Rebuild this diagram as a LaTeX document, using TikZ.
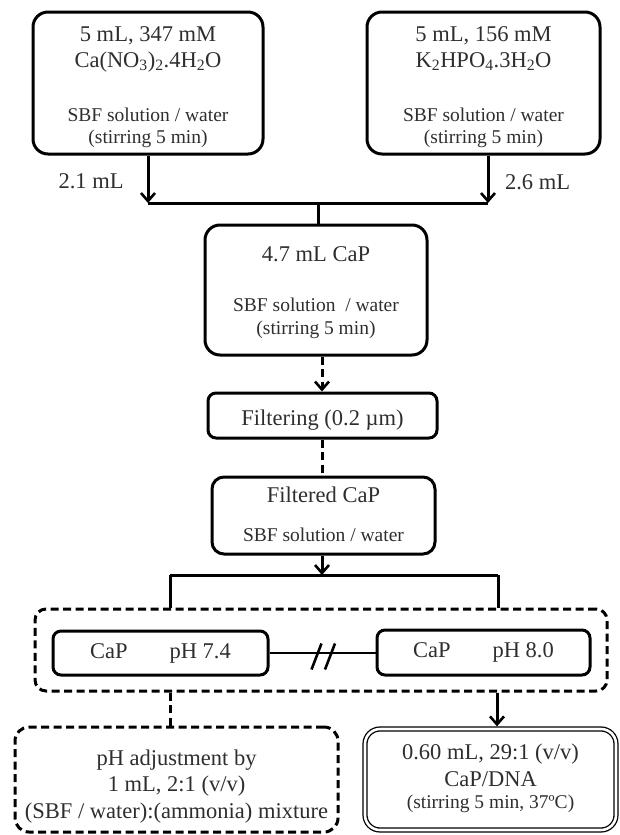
\documentclass[tikz,border=0pt]{standalone}
\usepackage{fontspec}
\setmainfont{Liberation Serif}
\usetikzlibrary{arrows.meta,calc}
\newcommand\bigtxt{\fontsize{22.5}{27}\selectfont}
\newcommand\smalltxt{\fontsize{19.5}{23}\selectfont}
\newcommand\tb[1]{\begin{tabular}[t]{@{}c@{}}#1\end{tabular}}
\definecolor{textc}{HTML}{2E2E2E}
\begin{document}
\begin{tikzpicture}[x=1pt,y=-1pt,
  box/.style={draw, line width=3pt, rounded corners=15pt, inner sep=0pt, text=textc, font=\bigtxt},
  smallbox/.style={box, rounded corners=8pt},
  dashbox/.style={box, dash pattern=on 8pt off 4.5pt},
  dblbox/.style={draw, line width=1.3pt, double, double distance=2.6pt, rounded corners=15pt, inner sep=0pt, text=textc, font=\bigtxt},
  conn/.style={line width=3pt},
  dconn/.style={line width=3pt, dash pattern=on 8pt off 4.5pt},
  arr/.style={conn, -{Straight Barb[length=8pt,width=14pt,line width=2.6pt]}},
  darr/.style={dconn, -{Straight Barb[length=8pt,width=14pt,line width=2.6pt]}},
  lbl/.style={text=textc, font=\bigtxt, inner sep=0pt, anchor=base}
]
\useasboundingbox (0,0) rectangle (619,835);

% top boxes (top 12, bottom 154)
\node[box, minimum width=230pt, text height=29.7pt, text depth=112.3pt] (A) at (148,83)
  {\tb{5 mL, 347 mM\\[-1pt] Ca(NO\textsubscript{3})\textsubscript{2}.4H\textsubscript{2}O\\[27pt]
   \smalltxt SBF solution / water\\[-5.4pt] \smalltxt (stirring 5 min)}};
\node[box, minimum width=233pt, text height=29.7pt, text depth=112.3pt] (B) at (483.5,83)
  {\tb{5 mL, 156 mM\\[-1pt] K\textsubscript{2}HPO\textsubscript{4}.3H\textsubscript{2}O\\[27pt]
   \smalltxt SBF solution / water\\[-5.4pt] \smalltxt (stirring 5 min)}};

\node[lbl] (l1) at (91,188.3) {2.1 mL};
\node[lbl] (l2) at (537.5,189) {2.6 mL};

\coordinate (j1) at (148,203);
\coordinate (j2) at (488,203);
\draw[arr] (A.south) -- (j1);
\draw[arr] (B.south -| j2) -- (j2);
\draw[conn] (j1) -- (j2);

% CaP mixing box (top 225, bottom 355)
\node[box, minimum width=222pt, text height=36.7pt, text depth=93.3pt] (C) at (316,290)
  {\tb{4.7 mL CaP\\[23pt] \smalltxt SBF solution~~/ water\\[-4.7pt] \smalltxt (stirring 5 min)}};
\coordinate (cm) at (318,203);
\draw[conn] (cm) -- (cm |- C.north);

% filtering (top 393, bottom 438)
\node[smallbox, minimum width=229pt, text height=32pt, text depth=13pt] (D) at (322.5,415.5)
  {Filtering (0.2 µm)};
\coordinate (dx) at (322,0);
\draw[darr] (dx |- C.south) -- (dx |- D.north);

% filtered CaP (top 477, bottom 554)
\node[box, rounded corners=12pt, minimum width=223pt, text height=25.7pt, text depth=51.3pt] (E) at (323.5,515.5)
  {\tb{Filtered CaP\\[12pt] \smalltxt SBF solution / water}};
\draw[dconn] (dx |- D.south) -- (dx |- E.north);

% branch
\coordinate (b0) at (322,575);
\coordinate (bl) at (170,575);
\coordinate (br) at (498,575);
\draw[arr] (dx |- E.south) -- (b0);
\draw[conn] (bl) -- (br);

% dashed group box
\node[dashbox, rounded corners=11pt, minimum width=572pt, minimum height=82pt] (F) at (321,650) {};
\draw[conn] (bl) -- (bl |- F.north);
\draw[conn] (br) -- (br |- F.north);

\node[smallbox, minimum width=215pt, minimum height=44pt] (G) at (160.5,653)
  {CaP\hspace{42pt}pH 7.4};
\node[smallbox, minimum width=213pt, minimum height=45pt] (H) at (483.5,652.5)
  {CaP\hspace{42pt}pH 8.0};
\draw[conn, line width=2.6pt] (G.east) -- (G.east -| H.west);
\coordinate (s1) at (316.5,656.5);
\coordinate (s2) at (330,656.5);
\draw[line width=2.6pt] ($(s1)+(-5,13)$) -- ($(s1)+(5,-13)$);
\draw[line width=2.6pt] ($(s2)+(-5,13)$) -- ($(s2)+(5,-13)$);

% bottom boxes (top 727, bottom 832)
\node[dashbox, rounded corners=14pt, minimum width=323pt, text height=38pt, text depth=67pt] (I) at (176.5,779.5)
  {\tb{pH adjustment by\\[-0.3pt] 1 mL, 2:1 (v/v)\\[-0.3pt] (SBF / water):(ammonia) mixture}};
\coordinate (cx1) at (170,0);
\draw[dconn] (cx1 |- F.south) -- (cx1 |- I.north);

\node[dblbox, minimum width=251pt, text height=30.3pt, text depth=70.7pt] (J) at (490.5,779.5)
  {\tb{0.60 mL, 29:1 (v/v)\\[0.4pt] CaP/DNA\\[-5pt] \smalltxt (stirring 5 min, 37ºC)}};
\coordinate (cx2) at (497,0);
\draw[arr] (cx2 |- F.south) -- ($(cx2 |- J.north)+(0,-2)$);
\end{tikzpicture}
\end{document}
